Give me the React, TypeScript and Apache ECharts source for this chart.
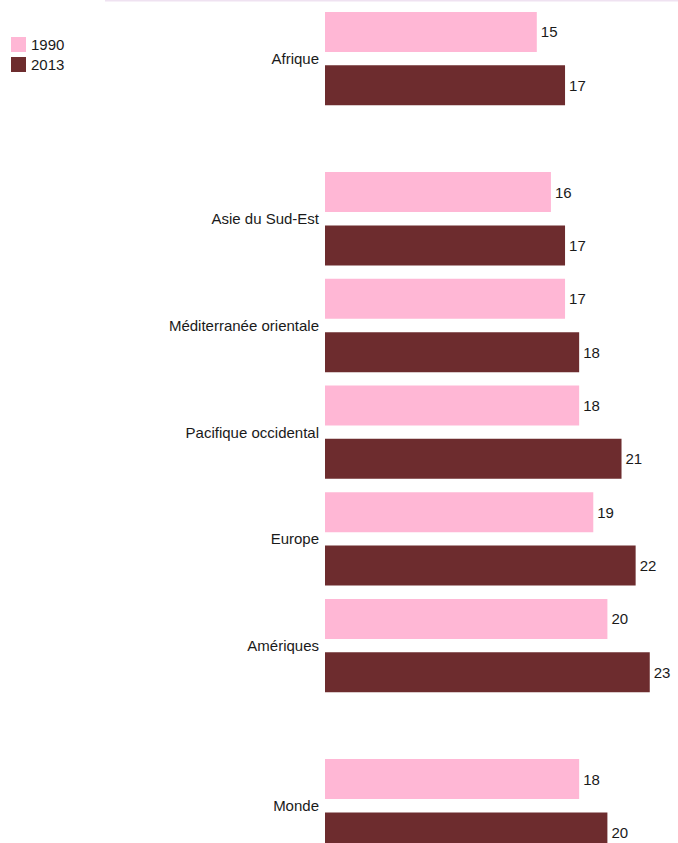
import React, { useEffect, useRef } from "react";
import * as echarts from "echarts";

const categories = [
  "Afrique",
  "Asie du Sud-Est",
  "Méditerranée orientale",
  "Pacifique occidental",
  "Europe",
  "Amériques",
  "Monde",
];
const values1990 = [15, 16, 17, 18, 19, 20, 18];
const values2013 = [17, 17, 18, 21, 22, 23, 20];
// a blank half-row is inserted before these category indices
const gapBefore = [1, 6];
const seriesNames = ["1990", "2013"];
const colors = ["#ffb7d5", "#6d2c2e"];

export default function App() {
  const ref = useRef<HTMLDivElement>(null);
  useEffect(() => {
    if (!ref.current) return;
    const chart = echarts.init(ref.current, null, { renderer: "svg" });

    const slots: string[] = [];
    const d1990: (number | string)[] = [];
    const d2013: (number | string)[] = [];
    const labelAt: Record<number, string> = {};
    categories.forEach((c, i) => {
      if (gapBefore.includes(i)) {
        slots.push("gap" + i);
        d1990.push("-");
        d2013.push("-");
      }
      slots.push(c + "-1990");
      d1990.push(values1990[i]);
      d2013.push("-");
      labelAt[slots.length] = c;
      slots.push(c + "-2013");
      d1990.push("-");
      d2013.push(values2013[i]);
    });
    const n = slots.length;
    const font = "Liberation Sans";
    const fs = 15;

    chart.setOption({
      animation: false,
      textStyle: { fontFamily: font },
      legend: {
        left: 6,
        top: 32,
        orient: "vertical",
        itemWidth: 15,
        itemHeight: 15,
        itemGap: 5,
        icon: "rect",
        textStyle: { fontSize: fs, color: "#1a1a1a", fontFamily: font },
        data: seriesNames,
      },
      graphic: [
        {
          type: "line",
          shape: { x1: 105, y1: 0.5, x2: 678, y2: 0.5 },
          style: { stroke: "#efe2f1", lineWidth: 2 },
        },
      ],
      grid: {
        left: 325,
        right: 0,
        top: 5.3,
        height: 53.36 * n,
        outerBoundsMode: "none",
        containLabel: false,
      },
      xAxis: {
        type: "value",
        min: 0,
        max: 25,
        show: false,
      },
      yAxis: [
        {
          type: "category",
          data: slots,
          inverse: true,
          show: false,
        },
        {
          type: "value",
          min: 0,
          max: n,
          interval: 1,
          inverse: true,
          position: "left",
          axisLine: { show: false },
          axisTick: { show: false },
          splitLine: { show: false },
          axisLabel: {
            margin: 6,
            fontSize: fs,
            color: "#1a1a1a",
            fontFamily: font,
            showMinLabel: true,
            showMaxLabel: true,
            formatter: (v: number) => labelAt[v] || "",
          },
        },
      ],
      series: [
        {
          name: seriesNames[0],
          type: "bar",
          yAxisIndex: 0,
          data: d1990,
          barWidth: 40,
          barGap: "-100%",
          itemStyle: { color: colors[0] },
          label: { show: true, position: "right", distance: 4, fontSize: fs, color: "#1a1a1a", fontFamily: font },
        },
        {
          name: seriesNames[1],
          type: "bar",
          yAxisIndex: 0,
          data: d2013,
          barWidth: 40,
          barGap: "-100%",
          itemStyle: { color: colors[1] },
          label: { show: true, position: "right", distance: 4, fontSize: fs, color: "#1a1a1a", fontFamily: font },
        },
      ],
    });
    return () => chart.dispose();
  }, []);
  return (
    <div
      ref={ref}
      style={{ position: "absolute", left: 0, top: 0, width: 678, height: 843 }}
    />
  );
}
